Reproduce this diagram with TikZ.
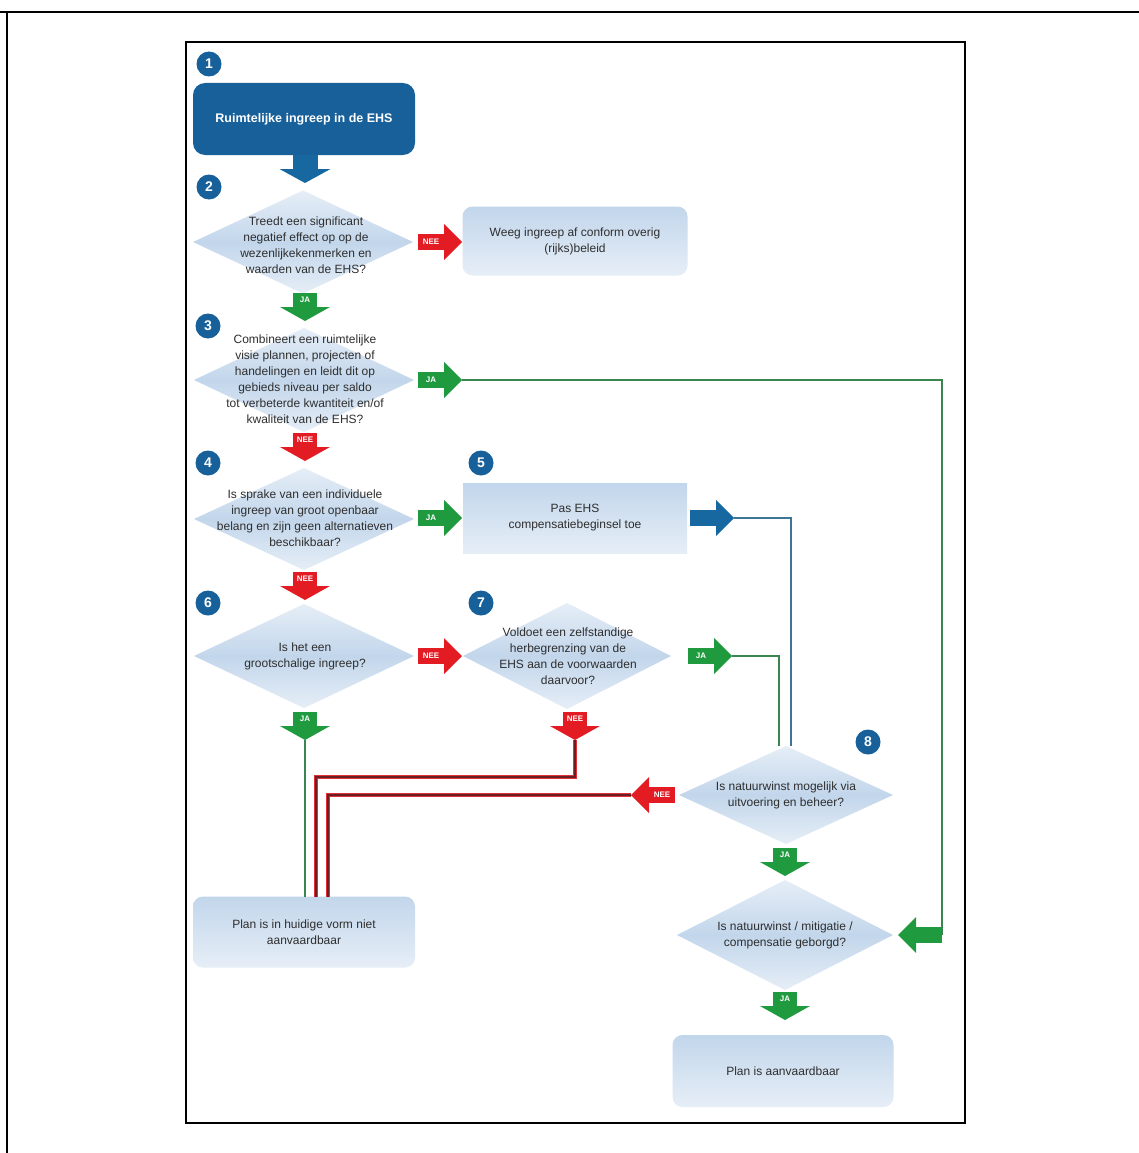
\documentclass[tikz,border=0pt]{standalone}
\usepackage{fontspec}
\setmainfont{Liberation Sans}
\usetikzlibrary{shapes.geometric,calc}
\definecolor{dblue}{HTML}{17609A}
\definecolor{lblue}{HTML}{C2D6EB}
\definecolor{lblue2}{HTML}{E6EEF7}
\definecolor{ared}{HTML}{E31B23}
\definecolor{agreen}{HTML}{1F9A3E}
\definecolor{txt}{HTML}{2E2E2E}
\definecolor{lred}{HTML}{E0303A}
\definecolor{lredin}{HTML}{6A1F22}
\definecolor{lgreen}{HTML}{3A8550}
\definecolor{lbluel}{HTML}{3F7595}
\definecolor{ablue}{HTML}{1768A0}

\newcommand\arrD[5]{% name, position, color, label, shaft width
  \node[shaftv, fill=#3, minimum width=#5] (#1) at (#2) {#4};
  \fill[#3] ($(#1.south west)+(-13,0)$) -- ($(#1.south east)+(13,0)$) -- ($(#1.south)+(0,14)$) coordinate (#1tip) -- cycle;
}
\newcommand\arrR[4]{% name, position, color, label
  \node[shafth, fill=#3] (#1) at (#2) {#4};
  \fill[#3] ($(#1.north east)+(0,-10)$) -- ($(#1.south east)+(0,10)$) -- ($(#1.east)+(18,0)$) coordinate (#1tip) -- cycle;
}
\newcommand\arrL[4]{% name, position, color, label
  \node[shafth, fill=#3] (#1) at (#2) {#4};
  \fill[#3] ($(#1.north west)+(0,-10)$) -- ($(#1.south west)+(0,10)$) -- ($(#1.west)+(-18,0)$) coordinate (#1tip) -- cycle;
}

\begin{document}
\begin{tikzpicture}[x=1pt,y=-1pt,
  every node/.style={font=\fontsize{12}{16}\selectfont, text=txt, align=center},
  num/.style={circle, fill=dblue, minimum size=25pt, inner sep=0pt, text=white, font=\fontsize{14}{14}\selectfont\bfseries},
  dia/.style={diamond, top color=lblue2, bottom color=lblue2, middle color=lblue, draw=none, inner sep=0pt, outer sep=0pt},
  rbox/.style={rectangle, rounded corners=10pt, top color=lblue, bottom color=lblue2, inner sep=0pt, outer sep=0pt},
  sbox/.style={rectangle, top color=lblue, bottom color=lblue2, inner sep=0pt, outer sep=0pt},
  startbox/.style={rectangle, rounded corners=12pt, fill=dblue, text=white, inner sep=0pt, outer sep=0pt, font=\fontsize{12.5}{15}\selectfont\bfseries},
  shaftv/.style={rectangle, minimum height=14pt, inner sep=0pt, outer sep=0pt, text=white, font=\fontsize{8}{8}\selectfont\bfseries},
  shafth/.style={rectangle, minimum width=26pt, minimum height=16pt, inner sep=0pt, outer sep=0pt, text=white, font=\fontsize{8}{8}\selectfont\bfseries},
  gline/.style={draw=lgreen, line width=2.5pt},
  rline/.style={draw=lred, double=lredin, line width=1pt, double distance=1.3pt},
  bline/.style={draw=lbluel, line width=2.2pt},
]
\fill[white] (0,0) rectangle (1139,1153);
\useasboundingbox (0,0) rectangle (1139,1153);

% frame
\draw[line width=2pt] (0,12) -- (1139,12);
\draw[line width=1.5pt] (7,12) -- (7,1153);
\draw[line width=2.5pt] (186,42) rectangle (965,1123);

% step 1
\node[num] (n1) at (209,64) {1};
\node[startbox, minimum width=222pt, minimum height=72pt] (b1) at (304,119) {Ruimtelijke ingreep in de EHS};
\arrD{a1}{305,162}{ablue}{}{25pt}

% step 2
\node[num] (n2) at (209,187) {2};
\node[dia, minimum width=220pt, minimum height=103pt] (d2) at (303,242) {};
\node (t2) at (306,245) {Treedt een significant\\negatief effect op op de\\wezenlijkekenmerken en\\waarden van de EHS?};
\arrR{a2nee}{431,242}{ared}{NEE}
\node[rbox, minimum width=225pt, minimum height=69pt] (bw) at (575,241) {Weeg ingreep af conform overig\\(rijks)beleid};
\arrD{a2ja}{305,300}{agreen}{JA}{24pt}

% step 3
\node[num] (n3) at (208,326) {3};
\node[dia, minimum width=220pt, minimum height=104pt] (d3) at (304,380) {};
\node (t3) at (305,379) {Combineert een ruimtelijke\\visie plannen, projecten of\\handelingen en leidt dit op\\gebieds niveau per saldo\\tot verbeterde kwantiteit en/of\\kwaliteit van de EHS?};
\arrR{a3ja}{431,380}{agreen}{JA}
\arrD{a3nee}{305,440}{ared}{NEE}{24pt}

% step 4 / 5
\node[num] (n4) at (208,463) {4};
\node[dia, minimum width=220pt, minimum height=102pt] (d4) at (304,519) {};
\node (t4) at (305,518) {Is sprake van een individuele\\ingreep van groot openbaar\\belang en zijn geen alternatieven\\beschikbaar?};
\arrR{a4ja}{431,518}{agreen}{JA}
\node[num] (n5) at (481,463) {5};
\node[sbox, minimum width=224pt, minimum height=70pt] (b5) at (575,518) {Pas EHS\\compensatiebeginsel toe};
\arrR{a5}{703,518}{ablue}{}
\arrD{a4nee}{305,579}{ared}{NEE}{24pt}

% step 6 / 7
\node[num] (n6) at (208,603) {6};
\node[dia, minimum width=220pt, minimum height=104pt] (d6) at (304,656) {};
\node (t6) at (305,656) {Is het een\\grootschalige ingreep?};
\arrR{a6nee}{431,656}{ared}{NEE}
\node[num] (n7) at (481,603) {7};
\node[dia, minimum width=208pt, minimum height=106pt] (d7) at (567,656) {};
\node (t7) at (568,656) {Voldoet een zelfstandige\\herbegrenzing van de\\EHS aan de voorwaarden\\daarvoor?};
\arrR{a7ja}{701,656}{agreen}{JA}
\arrD{a6ja}{305,719}{agreen}{JA}{24pt}
\arrD{a7nee}{575,719}{ared}{NEE}{24pt}

% step 8
\node[num] (n8) at (868,742) {8};
\node[dia, minimum width=214pt, minimum height=98pt] (d8) at (786,795) {};
\node (t8) at (786,795) {Is natuurwinst mogelijk via\\uitvoering en beheer?};
\arrL{a8nee}{662,795}{ared}{NEE}
\arrD{a8ja}{785,855}{agreen}{JA}{24pt}

% final question
\node[dia, minimum width=216pt, minimum height=110pt] (d9) at (785,935) {};
\node (t9) at (785,935) {Is natuurwinst / mitigatie /\\compensatie geborgd?};
\arrL{a9in}{929,935}{agreen}{}
\arrD{a9ja}{785,999}{agreen}{JA}{24pt}

% end boxes
\node[rbox, minimum width=222pt, minimum height=71pt] (bn) at (304,932) {Plan is in huidige vorm niet\\aanvaardbaar};
\node[rbox, minimum width=221pt, minimum height=72pt] (bf) at (783,1071) {Plan is aanvaardbaar};

% connectors
\draw[gline] (a3jatip) -| (a9in.east);
\draw[bline] (a5tip) -| ([xshift=5pt]d8.north);
\draw[gline] (a7jatip) -| ([xshift=-7pt]d8.north);
\draw[gline] (a6jatip) -- (a6jatip |- bn.north);
\draw[rline] (a7neetip) -- ++(0,37) -| ([xshift=12pt]bn.north);
\draw[rline] (a8neetip) -| ([xshift=24pt]bn.north);
\end{tikzpicture}
\end{document}
